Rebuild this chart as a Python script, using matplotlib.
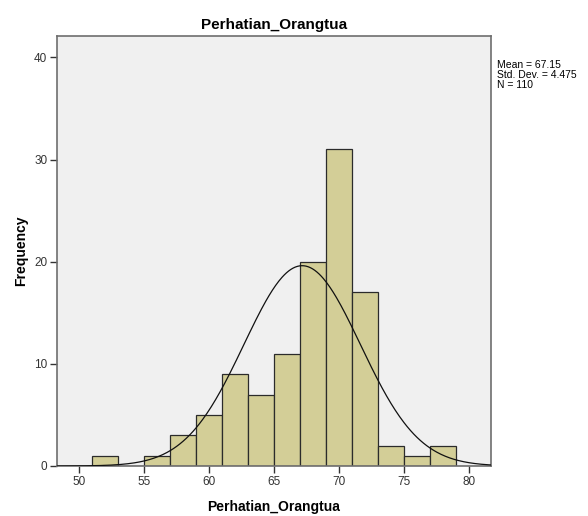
import numpy as np
import matplotlib
matplotlib.use('Agg')
import matplotlib.pyplot as plt

plt.rcParams['font.family'] = ['Liberation Sans', 'DejaVu Sans']

# histogram data (bin left edges, width 2)
bin_lefts = [51, 53, 55, 57, 59, 61, 63, 65, 67, 69, 71, 73, 75, 77]
counts = [1, 0, 1, 3, 5, 9, 7, 11, 20, 31, 17, 2, 1, 2]
bin_width = 2
mean = 67.15
std = 4.475
n = 110

x_ticks = [50, 55, 60, 65, 70, 75, 80]
y_ticks = [0, 10, 20, 30, 40]

fig = plt.figure(figsize=(5.88, 5.16), dpi=100)
ax = fig.add_axes([0.0969, 0.0969, 0.7381, 0.8333])
ax.set_facecolor('#F0F0F0')

ax.bar(bin_lefts, counts, width=bin_width, align='edge', color='#D3CE97',
       edgecolor='#2b2b2b', linewidth=0.9, zorder=2)

xs = np.linspace(48.31, 81.66, 400)
ys = n * bin_width / (std * np.sqrt(2 * np.pi)) * np.exp(-0.5 * ((xs - mean) / std) ** 2)
ax.plot(xs, ys, color='#111111', linewidth=0.9, zorder=3)

ax.set_xlim(48.31, 81.66)
ax.set_ylim(0, 42.1)
ax.set_xticks(x_ticks)
ax.set_yticks(y_ticks)
ax.tick_params(direction='out', length=5, width=1, colors='#333333', labelsize=8.5, pad=2)
for s in ax.spines.values():
    s.set_color('#6e6e6e')
    s.set_linewidth(1.2)

ax.set_title('Perhatian_Orangtua', fontsize=11, fontweight='bold', pad=5)
ax.set_xlabel('Perhatian_Orangtua', fontsize=10, fontweight='bold', labelpad=9)
ax.set_ylabel('Frequency', fontsize=10, fontweight='bold', labelpad=4)

fig.text(0.845, 0.884, 'Mean = %.2f\nStd. Dev. = %.3f\nN = %d' % (mean, std, n),
         fontsize=7.5, va='top', ha='left', linespacing=1.0)

fig.savefig('out.png', dpi=100)
